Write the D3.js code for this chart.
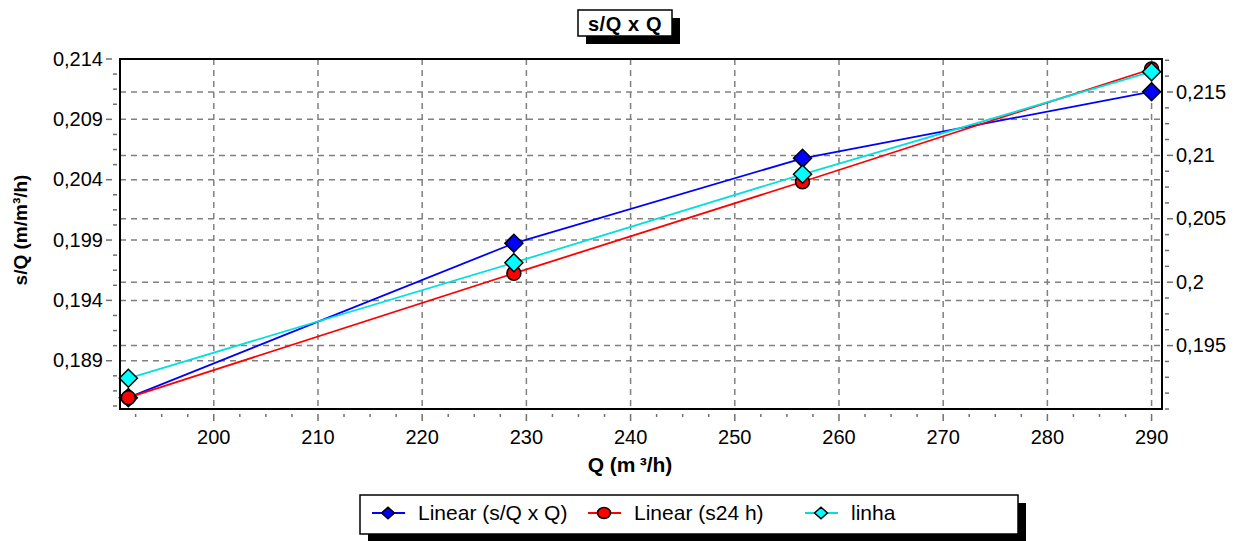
<!DOCTYPE html>
<html>
<head>
<meta charset="utf-8">
<script src="https://cdn.jsdelivr.net/npm/d3@7"></script>
<style>
  html, body { margin: 0; padding: 0; background: #fff; }
  svg { display: block; font-family: Arial, "Liberation Sans", sans-serif; }
</style>
</head>
<body>
<svg id="chart" width="1240" height="541"></svg>
<script>
// Flow rate Q (m³/h) of each pumping step
const Q = [191.8, 228.8, 256.5, 290.0];
// Specific drawdown series
const sqLinear = [0.18594, 0.19873, 0.20577, 0.21129];   // Linear (s/Q x Q), left axis
const s24Linear = [0.18594, 0.19624, 0.20383, 0.21317];  // Linear (s24 h), left axis
const linha = [0.19242, 0.20154, 0.20851, 0.2166];       // linha, right axis

// Axis ticks
const xTicks = [200, 210, 220, 230, 240, 250, 260, 270, 280, 290];
const yLeftTicks = [0.189, 0.194, 0.199, 0.204, 0.209, 0.214];
const yRightTicks = [0.195, 0.2, 0.205, 0.21, 0.215];

const chartTitle = "s/Q x Q";
const xTitle = "Q (m\u2009³/h)";
const yTitle = "s/Q (m/m³/h)";
const seriesNames = ["Linear (s/Q x Q)", "Linear (s24 h)", "linha"];

const svg = d3.select("#chart");
const plot = { left: 120, right: 1162, top: 59, bottom: 409 };

const x = d3.scaleLinear().domain([191, 291]).range([plot.left, plot.right]);
const yL = d3.scaleLinear().domain([0.185, 0.214]).range([plot.bottom, plot.top]);
const yR = d3.scaleLinear().domain([0.19, 0.2176]).range([plot.bottom, plot.top]);

const fmt = d3.formatLocale({ decimal: ",", thousands: ".", grouping: [3], currency: ["", ""] }).format("~g");

const gridColor = "#808080";
const tickColor = "#707070";

// Grid lines
const grid = svg.append("g");
grid.selectAll(".vg").data(xTicks).join("line")
  .attr("x1", d => x(d)).attr("x2", d => x(d))
  .attr("y1", plot.top).attr("y2", plot.bottom)
  .attr("stroke", gridColor).attr("stroke-width", 1.5).attr("stroke-dasharray", "6 5");
grid.selectAll(".hgl").data(yLeftTicks.filter(d => d < 0.214)).join("line")
  .attr("x1", plot.left).attr("x2", plot.right)
  .attr("y1", d => yL(d)).attr("y2", d => yL(d))
  .attr("stroke", gridColor).attr("stroke-width", 1.5).attr("stroke-dasharray", "6 5");
grid.selectAll(".hgr").data(yRightTicks).join("line")
  .attr("x1", plot.left).attr("x2", plot.right)
  .attr("y1", d => yR(d)).attr("y2", d => yR(d))
  .attr("stroke", gridColor).attr("stroke-width", 1.5).attr("stroke-dasharray", "6 5");

// Minor tick positions (quarter steps between major ticks)
const xMinor = d3.range(192.5, 291, 2.5).filter(v => Math.abs(v / 10 - Math.round(v / 10)) > 1e-6);
const yLMinor = d3.range(0, 24).map(i => 0.18525 + i * 0.00125).filter(v => v <= 0.214 && yLeftTicks.every(t => Math.abs(t - v) > 1e-6));
const yRMinor = d3.range(0, 23).map(i => 0.19 + i * 0.00125).filter(v => v <= 0.2176 && yRightTicks.every(t => Math.abs(t - v) > 1e-6));

const ticks = svg.append("g").attr("stroke", tickColor).attr("stroke-width", 1.5);
// bottom axis ticks
ticks.selectAll(".xM").data(xTicks).join("line")
  .attr("x1", d => x(d)).attr("x2", d => x(d)).attr("y1", plot.bottom + 5).attr("y2", plot.bottom + 12);
ticks.selectAll(".xm").data(xMinor).join("line")
  .attr("x1", d => x(d)).attr("x2", d => x(d)).attr("y1", plot.bottom + 5).attr("y2", plot.bottom + 8);
// left axis ticks
ticks.selectAll(".lM").data(yLeftTicks).join("line")
  .attr("x1", plot.left - 14).attr("x2", plot.left - 8).attr("y1", d => yL(d)).attr("y2", d => yL(d));
ticks.selectAll(".lm").data(yLMinor).join("line")
  .attr("x1", plot.left - 7).attr("x2", plot.left - 3).attr("y1", d => yL(d)).attr("y2", d => yL(d));
// right axis ticks
ticks.selectAll(".rM").data(yRightTicks).join("line")
  .attr("x1", plot.right + 5).attr("x2", plot.right + 11).attr("y1", d => yR(d)).attr("y2", d => yR(d));
ticks.selectAll(".rm").data(yRMinor).join("line")
  .attr("x1", plot.right + 3).attr("x2", plot.right + 7).attr("y1", d => yR(d)).attr("y2", d => yR(d));

// Tick labels
const labels = svg.append("g").attr("font-size", 20).attr("fill", "#000");
labels.selectAll(".xl").data(xTicks).join("text")
  .attr("x", d => x(d)).attr("y", 444).attr("text-anchor", "middle").text(d => d);
labels.selectAll(".ll").data(yLeftTicks).join("text")
  .attr("x", 103).attr("y", d => yL(d)).attr("dy", "0.33em").attr("text-anchor", "end").text(d => fmt(d));
labels.selectAll(".rl").data(yRightTicks).join("text")
  .attr("x", 1176).attr("y", d => yR(d)).attr("dy", "0.33em").attr("text-anchor", "start").text(d => fmt(d));

// Axis titles
svg.append("text").attr("x", 630).attr("y", 472)
  .attr("text-anchor", "middle").attr("font-size", 21).attr("font-weight", "bold").text(xTitle);
svg.append("text").attr("transform", "translate(27,230) rotate(-90)")
  .attr("text-anchor", "middle").attr("font-size", 19).attr("font-weight", "bold").text(yTitle);

// Series
const diamond = s => `M0,${-s}L${s},0L0,${s}L${-s},0Z`;
const series = [
  { name: seriesNames[0], values: sqLinear, y: yL, color: "#0000ff", fill: "#0000ff", shape: "diamond" },
  { name: seriesNames[1], values: s24Linear, y: yL, color: "#ff0000", fill: "#ff0000", shape: "circle" },
  { name: seriesNames[2], values: linha, y: yR, color: "#00e0e0", fill: "#00ffff", shape: "diamond" }
];

const marks = svg.append("g");
series.forEach(s => {
  const pts = Q.map((q, i) => [q, s.values[i]]);
  marks.append("path")
    .attr("d", d3.line().x(d => x(d[0])).y(d => s.y(d[1]))(pts))
    .attr("fill", "none").attr("stroke", s.color).attr("stroke-width", 1.8);
});
series.forEach(s => {
  const pts = Q.map((q, i) => [q, s.values[i]]);
  const g = marks.append("g");
  if (s.shape === "circle") {
    g.selectAll("circle").data(pts).join("circle")
      .attr("cx", d => x(d[0])).attr("cy", d => s.y(d[1])).attr("r", 7)
      .attr("fill", s.fill).attr("stroke", "#000").attr("stroke-width", 1.5);
  } else {
    g.selectAll("path").data(pts).join("path")
      .attr("transform", d => `translate(${x(d[0])},${s.y(d[1])})`)
      .attr("d", diamond(9))
      .attr("fill", s.fill).attr("stroke", "#000").attr("stroke-width", 1.5);
  }
});

// Plot frame
svg.append("rect").attr("x", plot.left).attr("y", plot.top)
  .attr("width", plot.right - plot.left).attr("height", plot.bottom - plot.top)
  .attr("fill", "none").attr("stroke", "#000").attr("stroke-width", 2);

// Title box with drop shadow
const tb = { x: 578, y: 10, w: 94, h: 26 };
svg.append("rect").attr("x", tb.x + 8).attr("y", tb.y + 8).attr("width", tb.w).attr("height", tb.h).attr("fill", "#000");
svg.append("rect").attr("x", tb.x).attr("y", tb.y).attr("width", tb.w).attr("height", tb.h)
  .attr("fill", "#fff").attr("stroke", "#000").attr("stroke-width", 1.5);
svg.append("text").attr("x", tb.x + tb.w / 2).attr("y", 30.5).attr("text-anchor", "middle")
  .attr("font-size", 20).attr("font-weight", "bold").attr("letter-spacing", 0.6).text(chartTitle);

// Legend box with drop shadow
const lb = { x: 360, y: 495, w: 658, h: 39 };
svg.append("rect").attr("x", lb.x + 8).attr("y", lb.y + 8).attr("width", lb.w).attr("height", lb.h).attr("fill", "#000");
svg.append("rect").attr("x", lb.x).attr("y", lb.y).attr("width", lb.w).attr("height", lb.h)
  .attr("fill", "#fff").attr("stroke", "#000").attr("stroke-width", 1.5);

const legendX = [372, 588, 805];
const ly = 513;
series.forEach((s, i) => {
  const g = svg.append("g").attr("transform", `translate(${legendX[i]},${ly})`);
  g.append("line").attr("x1", 0).attr("x2", 33).attr("y1", 0).attr("y2", 0)
    .attr("stroke", s.color).attr("stroke-width", 1.8);
  if (s.shape === "circle") {
    g.append("ellipse").attr("cx", 16).attr("cy", 0).attr("rx", 6.5).attr("ry", 5.5)
      .attr("fill", s.fill).attr("stroke", "#000").attr("stroke-width", 1.5);
  } else {
    g.append("path").attr("transform", "translate(16,0) scale(1,0.9)").attr("d", diamond(6.5))
      .attr("fill", s.fill).attr("stroke", "#000").attr("stroke-width", 1.5);
  }
  g.append("text").attr("x", 46).attr("y", 0).attr("dy", "0.35em")
    .attr("font-size", 21).text(s.name);
});
</script>
</body>
</html>
